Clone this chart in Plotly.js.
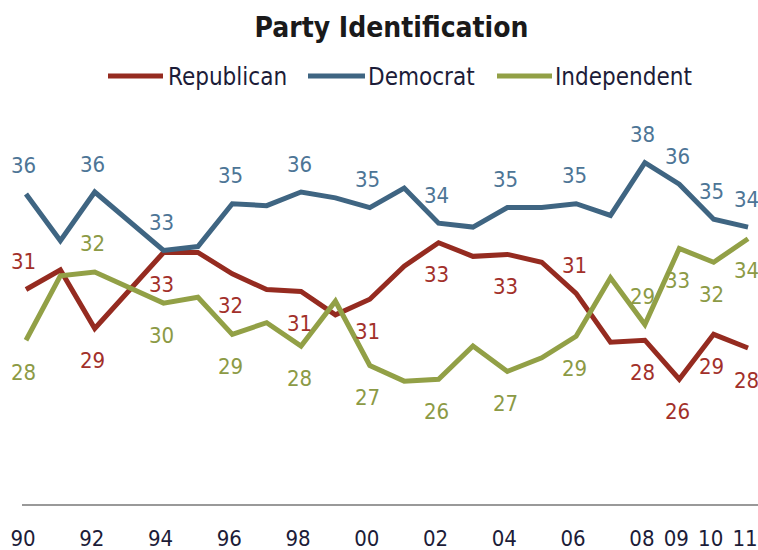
<!DOCTYPE html>
<html>
<head>
<meta charset="utf-8">
<script src="https://cdn.plot.ly/plotly-3.0.1.min.js"></script>
<style>html,body{margin:0;padding:0;background:#fff;}#chart{width:758px;height:550px;}</style>
</head>
<body>
<div id="chart"></div>
<script>
// ---- data (1993 not reported) ----
var years = [1990,1991,1992,1994,1995,1996,1997,1998,1999,2000,2001,2002,2003,2004,2005,2006,2007,2008,2009,2010,2011];
var republican = [31.0,32.0,29.0,32.9,32.9,31.8,31.0,30.9,29.7,30.5,32.2,33.4,32.7,32.8,32.4,30.8,28.3,28.4,26.4,28.7,28.0];
var democrat   = [35.9,33.5,36.0,33.0,33.2,35.4,35.3,36.0,35.7,35.2,36.2,34.4,34.2,35.2,35.2,35.4,34.8,37.5,36.4,34.6,34.2];
var independent= [28.4,31.7,31.9,30.3,30.6,28.7,29.3,28.1,30.4,27.1,26.3,26.4,28.1,26.8,27.5,28.6,31.6,29.2,33.1,32.4,33.6];
var tickYears  = [1990,1992,1994,1996,1998,2000,2002,2004,2006,2008,2009,2010,2011];
var tickLabels = ['90','92','94','96','98','00','02','04','06','08','09','10','11'];
var seriesNames = ['Republican','Democrat','Independent'];

// ---- styles ----
var lineColors  = ['#952b20','#3f6582','#92a046'];
var labelColors = ['#a2302a','#4d7596','#8c9a45'];
// label placement per labelled year: 1 = above, -1 = below
var labelSide = [
  [1,-1,-1,-1,-1,-1,-1,-1,1,-1,-1,-1,-1],
  [1,1,1,1,1,1,1,1,1,1,1,1,1],
  [-1,1,-1,-1,-1,-1,-1,-1,-1,1,-1,-1,-1]
];
var FONT = 'DejaVu Sans Condensed, Liberation Sans, sans-serif';
var W = 758, H = 550, ML = 22, MR = 0, MT = 114, MB = 46;
var PW = W - ML - MR, PH = H - MT - MB;
function px(x){ return (x - ML) / PW; }
function py(y){ return 1 - (y - MT) / PH; }

var allSeries = [republican, democrat, independent];
var traces = allSeries.map(function(vals, i){
  return {
    x: years, y: vals, type: 'scatter', mode: 'lines', name: seriesNames[i],
    line: {color: lineColors[i], width: 5}, hoverinfo: 'x+y', cliponaxis: false
  };
});

var annotations = [];
allSeries.forEach(function(vals, i){
  tickYears.forEach(function(yr, k){
    var idx = years.indexOf(yr);
    var v = vals[idx];
    annotations.push({
      x: yr, y: v, xref: 'x', yref: 'y', text: String(Math.round(v)),
      showarrow: false, xanchor: 'center', yanchor: 'middle',
      xshift: -2, yshift: labelSide[i][k] > 0 ? 28 : -32,
      font: {family: FONT, size: 22, color: labelColors[i]}
    });
  });
});

// manual legend
var shapes = [];
var legendItems = [
  {x0: 108, x1: 163, tx: 166},
  {x0: 308, x1: 365, tx: 366},
  {x0: 497, x1: 552, tx: 553}
];
var legY = 76;
legendItems.forEach(function(it, i){
  shapes.push({type: 'line', xref: 'paper', yref: 'paper',
    x0: px(it.x0), x1: px(it.x1), y0: py(legY), y1: py(legY),
    line: {color: lineColors[i], width: 5}});
  annotations.push({xref: 'paper', yref: 'paper', x: px(it.tx), y: py(legY + 1),
    text: seriesNames[i], showarrow: false, xanchor: 'left', yanchor: 'middle',
    font: {family: FONT, size: 24, color: '#1c1c38'}});
});

var layout = {
  width: W, height: H,
  margin: {l: ML, r: MR, t: MT, b: MB, pad: 0},
  paper_bgcolor: '#ffffff', plot_bgcolor: '#ffffff',
  showlegend: false,
  title: {text: '<b>Party Identification</b>', x: 391.5 / W, xanchor: 'center',
    xref: 'container', yref: 'container', y: 1 - 27 / H, yanchor: 'middle',
    font: {family: FONT, size: 28, color: '#1a1a1a'}},
  xaxis: {range: [1989.884, 2011.29], tickvals: tickYears, ticktext: tickLabels,
    showgrid: false, zeroline: false, showline: true, linecolor: '#999999', linewidth: 2,
    ticks: '', ticklabelstandoff: 14, ticklabelshift: -3,
    tickfont: {family: FONT, size: 22, color: '#1c1c38'}, fixedrange: true},
  yaxis: {range: [20, 40], visible: false, fixedrange: true},
  annotations: annotations,
  shapes: shapes
};

Plotly.newPlot('chart', traces, layout, {displayModeBar: false, staticPlot: true});
</script>
</body>
</html>
